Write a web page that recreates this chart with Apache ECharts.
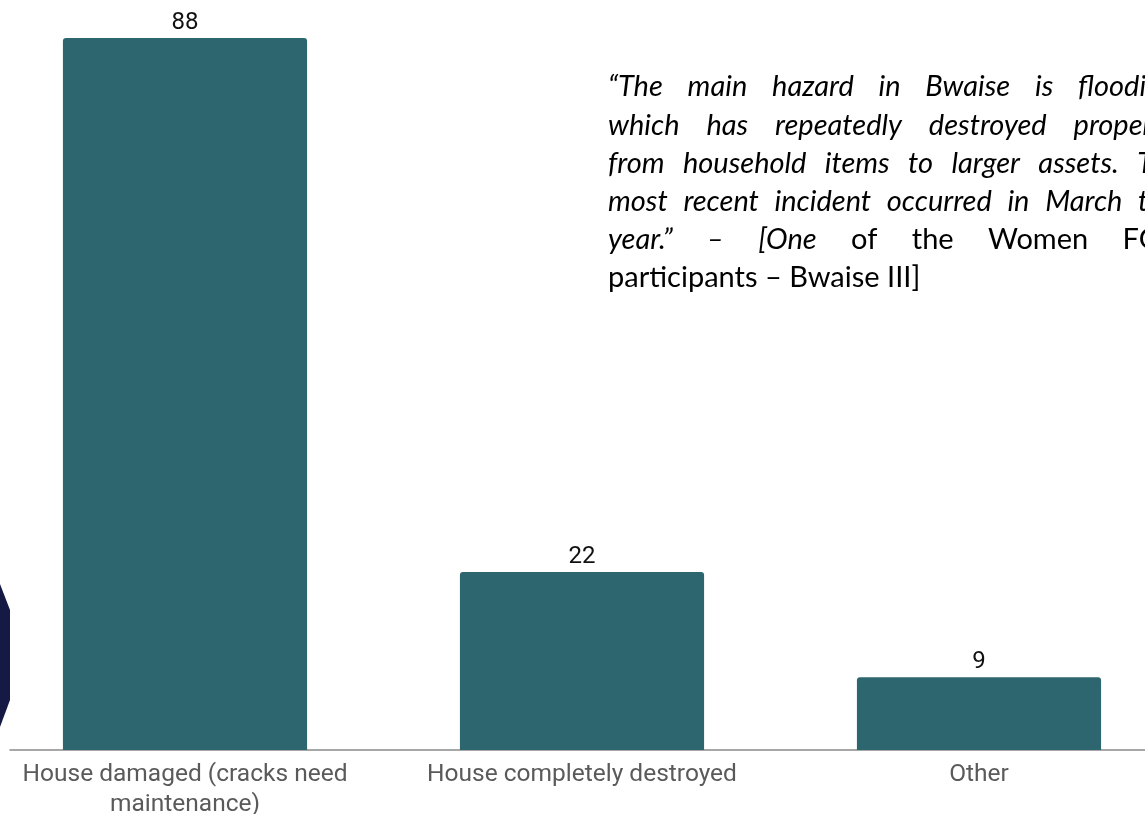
<!DOCTYPE html>
<html>
<head>
<meta charset="utf-8">
<script src="https://cdn.jsdelivr.net/npm/echarts@6/dist/echarts.min.js"></script>
<style>
html,body{margin:0;padding:0;background:#fff;}
#chart{width:1145px;height:814px;}
</style>
</head>
<body>
<div id="chart"></div>
<script>
const categories = ['House damaged (cracks need\nmaintenance)', 'House completely destroyed', 'Other'];
const values = [88, 22, 9];
// quote lines: each word with italic flag
const quoteLines = [
  [['“The',1],['main',1],['hazard',1],['in',1],['Bwaise',1],['is',1],['flooding,',1]],
  [['which',1],['has',1],['repeatedly',1],['destroyed',1],['property,',1]],
  [['from',1],['household',1],['items',1],['to',1],['larger',1],['assets.',1],['The',1]],
  [['most',1],['recent',1],['incident',1],['occurred',1],['in',1],['March',1],['this',1]],
  [['year.”',1],['–',1],['[One',1],['of',0],['the',0],['Women',0],['FGD',0]],
  [['participants',0],['–',0],['Bwaise',0],['III]',0]]
];
const justified = [true, true, true, true, true, false];

const QUOTE_FONT = 'Lato';
const QUOTE_SIZE = 29;
const QUOTE_LEFT = 608;
const QUOTE_RIGHT = 1182;
const QUOTE_TOP = 72.5;
const QUOTE_LINE = 38.2;

const ctx = document.createElement('canvas').getContext('2d');
function fontStr(it){ return (it ? 'italic ' : '') + QUOTE_SIZE + 'px ' + QUOTE_FONT; }
function measure(w, it){ ctx.font = fontStr(it); return ctx.measureText(w).width; }

const quoteGraphics = [];
quoteLines.forEach((line, li) => {
  const widths = line.map(([w, it]) => measure(w, it));
  const total = widths.reduce((a, b) => a + b, 0);
  let gap;
  if (justified[li] && line.length > 1) {
    gap = (QUOTE_RIGHT - QUOTE_LEFT - total) / (line.length - 1);
  } else {
    gap = measure(' ', 0);
  }
  let x = QUOTE_LEFT;
  line.forEach(([w, it], wi) => {
    quoteGraphics.push({
      type: 'text',
      x: x,
      y: QUOTE_TOP + li * QUOTE_LINE,
      silent: true,
      style: {
        text: w,
        fill: '#000',
        font: fontStr(it),
        textAlign: 'left',
        textVerticalAlign: 'top'
      }
    });
    x += widths[wi] + gap;
  });
});

const chart = echarts.init(document.getElementById('chart'));
chart.setOption({
  animation: false,
  backgroundColor: '#fff',
  grid: [
    { left: -13.5, right: -32.5, top: 38, bottom: 64, containLabel: false, outerBoundsMode: 'none' },
    { left: 10, right: 0, top: 38, bottom: 64, containLabel: false, outerBoundsMode: 'none' }
  ],
  xAxis: [
    {
      type: 'category',
      gridIndex: 0,
      data: categories,
      axisLine: { show: false },
      axisTick: { show: false },
      axisLabel: {
        color: '#5a5a5a',
        fontFamily: 'Roboto',
        fontSize: 24.5,
        lineHeight: 30,
        margin: 9.5,
        interval: 0
      }
    },
    {
      type: 'value',
      gridIndex: 1,
      min: 0, max: 1,
      axisLine: { show: true, onZero: false, lineStyle: { color: '#8a8a8a', width: 1.5 } },
      axisTick: { show: false },
      axisLabel: { show: false },
      splitLine: { show: false }
    }
  ],
  yAxis: [
    { type: 'value', gridIndex: 0, min: 0, max: 88, show: false, splitLine: { show: false } },
    { type: 'value', gridIndex: 1, min: 0, max: 1, show: false, splitLine: { show: false } }
  ],
  series: [{
    type: 'bar',
    xAxisIndex: 0,
    yAxisIndex: 0,
    data: values,
    barWidth: '61.5%',
    itemStyle: { color: '#2e6670', borderRadius: [3, 3, 0, 0] },
    label: {
      show: true,
      position: 'top',
      distance: 3,
      color: '#111',
      fontFamily: 'Roboto',
      fontSize: 24
    }
  }],
  graphic: [
    {
      type: 'polygon',
      silent: true,
      shape: { points: [[0, 584], [10, 610], [10, 700], [0, 727]] },
      style: { fill: '#151a45' }
    }
  ].concat(quoteGraphics)
});
</script>
</body>
</html>
